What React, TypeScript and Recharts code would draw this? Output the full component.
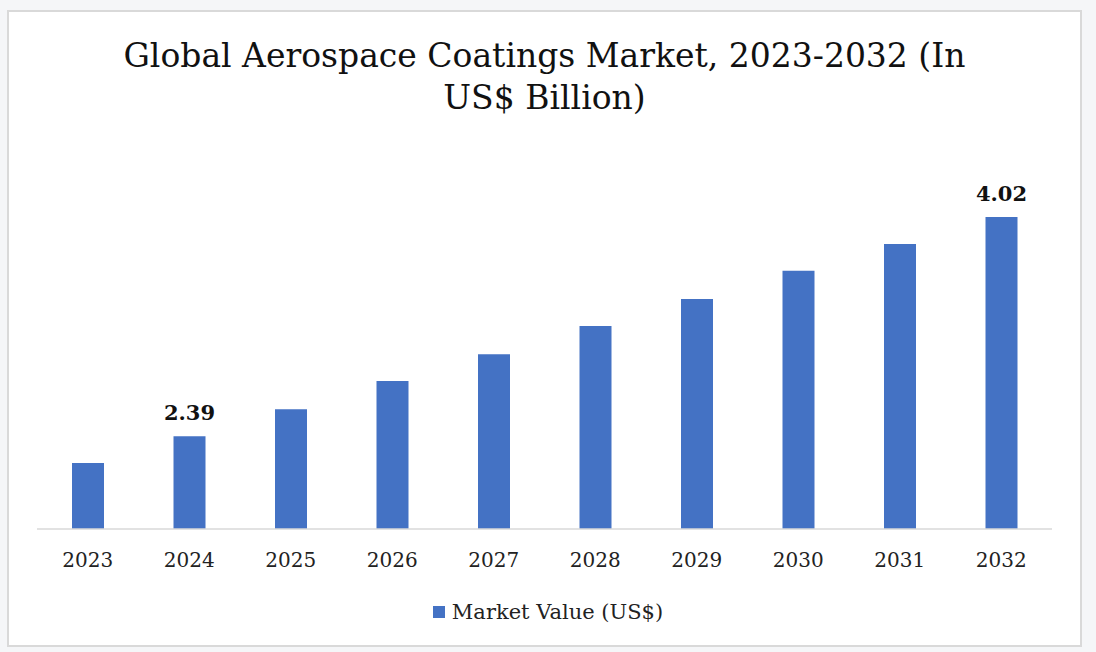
import { Bar, BarChart, LabelList, XAxis, YAxis } from "recharts";

const YEARS = ["2023", "2024", "2025", "2026", "2027", "2028", "2029", "2030", "2031", "2032"];
const MARKET_VALUE = [2.19, 2.39, 2.59, 2.8, 3.0, 3.21, 3.41, 3.62, 3.82, 4.02];
// Only these years carry a value label in the original.
const LABELLED_YEARS = ["2024", "2032"];

const TITLE_LINES = ["Global Aerospace Coatings Market, 2023-2032 (In", "US$ Billion)"];
const SERIES_NAME = "Market Value (US$)";

const FONT = "'DejaVu Serif', 'Liberation Serif', serif";
const BAR_COLOR = "#4472C4";

const rows = YEARS.map((year, i) => ({ year, value: MARKET_VALUE[i] }));

function ValueLabel(props: any) {
  const { x, y, width, value, index } = props;
  if (!LABELLED_YEARS.includes(YEARS[index])) return null;
  return (
    <text
      x={x + width / 2}
      y={y - 16}
      textAnchor="middle"
      fontFamily={FONT}
      fontSize={21}
      fontWeight="bold"
      fill="#111"
    >
      {Number(value).toFixed(2)}
    </text>
  );
}

export default function App() {
  return (
    <div
      style={{
        position: "absolute",
        left: 0,
        top: 0,
        width: 1096,
        height: 652,
        background: "#f5f6f8",
        overflow: "hidden",
      }}
    >
      <div
        style={{
          position: "absolute",
          left: 7,
          top: 10,
          width: 1071,
          height: 633,
          border: "2px solid #d9d9d9",
          background: "#fff",
        }}
      />
      <div
        style={{
          position: "absolute",
          left: 7,
          top: 35,
          width: 1075,
          textAlign: "center",
          fontFamily: FONT,
          fontSize: 33,
          lineHeight: "42px",
          color: "#111",
        }}
      >
        {TITLE_LINES.map((line) => (
          <div key={line}>{line}</div>
        ))}
      </div>
      <div style={{ position: "absolute", left: 0, top: 0 }}>
        <BarChart width={1096} height={652} data={rows} margin={{ top: 166, right: 44, bottom: 63, left: 37 }}>
          <XAxis
            dataKey="year"
            height={60}
            tickLine={false}
            axisLine={{ stroke: "#d9d9d9", strokeWidth: 1.5 }}
            tickMargin={18}
            tick={{ fill: "#222", fontSize: 20, fontFamily: FONT }}
          />
          <YAxis hide domain={[1.7, 4.4]} />
          <Bar dataKey="value" fill={BAR_COLOR} barSize={32} isAnimationActive={false}>
            <LabelList dataKey="value" content={<ValueLabel />} />
          </Bar>
        </BarChart>
      </div>
      <div
        style={{
          position: "absolute",
          left: 0,
          top: 600,
          width: 1096,
          display: "flex",
          justifyContent: "center",
          alignItems: "center",
          gap: 7,
          fontFamily: FONT,
          fontSize: 21,
          color: "#222",
        }}
      >
        <span style={{ display: "inline-block", width: 12, height: 12, background: BAR_COLOR }} />
        <span>{SERIES_NAME}</span>
      </div>
    </div>
  );
}
